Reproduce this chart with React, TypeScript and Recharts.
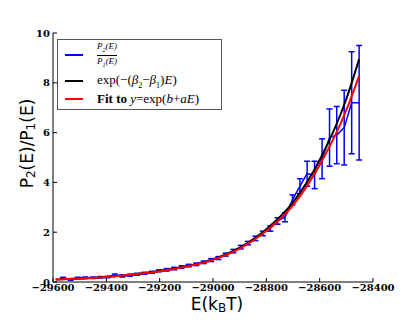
import React from "react";
import { LineChart, Line, XAxis, YAxis, ErrorBar, Legend, Label } from "recharts";

// binned energies (k_B T) and measured ratio P2/P1 with errors
const energies = [
  -29562, -29534, -29507, -29479, -29451, -29423, -29396, -29368, -29340, -29312,
  -29285, -29257, -29229, -29202, -29174, -29146, -29118, -29091, -29063, -29035,
  -29007, -28980, -28952, -28924, -28896, -28869, -28841, -28813, -28785, -28758,
  -28730, -28702, -28674, -28647, -28619, -28591, -28563, -28536, -28508, -28480,
  -28452,
];
const ratio = [
  0.16, 0.1, 0.16, 0.17, 0.17, 0.19, 0.2, 0.28, 0.24, 0.27,
  0.31, 0.35, 0.39, 0.45, 0.49, 0.54, 0.6, 0.66, 0.71, 0.79,
  0.88, 0.96, 1.1, 1.24, 1.4, 1.56, 1.75, 1.95, 2.15, 2.45,
  2.6, 3.3, 3.85, 4.35, 4.3, 4.95, 5.8, 5.9, 6.2, 7.2,
  7.2,
];
const ratioErr = [
  0.03, 0.03, 0.03, 0.03, 0.03, 0.03, 0.03, 0.04, 0.04, 0.04,
  0.04, 0.04, 0.04, 0.04, 0.05, 0.05, 0.05, 0.05, 0.05, 0.05,
  0.06, 0.06, 0.06, 0.07, 0.07, 0.07, 0.09, 0.09, 0.11, 0.13,
  0.18, 0.2, 0.3, 0.5, 0.55, 0.8, 1.15, 1.15, 1.5, 2.05,
  2.3,
];

// smooth curves
const curveE = [
  -29590, -29500, -29400, -29300, -29200, -29100, -29000,
  -28900, -28800, -28700, -28600, -28500, -28452,
];
const expTheory = [0.1, 0.14, 0.2, 0.3, 0.44, 0.63, 0.91, 1.38, 2.12, 3.2, 4.9, 7.35, 8.95];
const expFit = [0.1, 0.14, 0.2, 0.3, 0.43, 0.62, 0.89, 1.34, 2.05, 3.08, 4.7, 6.9, 8.28];

const xTicks = [-29600, -29400, -29200, -29000, -28800, -28600, -28400];
const yTicks = [0, 2, 4, 6, 8, 10];

const ratioData = energies.map((E, i) => ({ E, v: ratio[i], err: ratioErr[i] }));
const theoryData = curveE.map((E, i) => ({ E, v: expTheory[i] }));
const fitData = curveE.map((E, i) => ({ E, v: expFit[i] }));

const tickFont = {
  fontFamily: "DejaVu Serif",
  fontWeight: "bold",
  fontSize: 10,
  fill: "#000",
};
const mathFont = "Liberation Serif";
const fmt = (v: number) => (v < 0 ? "\u2212" + Math.abs(v) : String(v));
const blank = () => "";

const XLabel = ({ viewBox }: any) => {
  const cx = viewBox.x + viewBox.width / 2 + 4;
  return (
    <text x={cx} y={viewBox.y + 28} textAnchor="middle" fontFamily="DejaVu Sans" fontSize={17} fill="#000">
      E(k
      <tspan fontSize={12} dy={2}>B</tspan>
      <tspan dy={-2}>T)</tspan>
    </text>
  );
};

const YLabel = ({ viewBox }: any) => {
  const cx = viewBox.x + 27;
  const cy = viewBox.y + viewBox.height / 2 - 14;
  return (
    <text
      x={cx}
      y={cy}
      transform={`rotate(-90 ${cx} ${cy})`}
      textAnchor="middle"
      dominantBaseline="central"
      fontFamily="DejaVu Sans"
      fontSize={17}
      fill="#000"
    >
      P<tspan fontSize={12} dy={4}>2</tspan>
      <tspan dy={-4}>(E)/P</tspan>
      <tspan fontSize={12} dy={4}>1</tspan>
      <tspan dy={-4}>(E)</tspan>
    </text>
  );
};

const Swatch = ({ color }: { color: string }) => (
  <div style={{ width: 18, height: 2, background: color, marginRight: 14, flexShrink: 0 }} />
);

const LegendBox = () => (
  <div
    style={{
      position: "relative",
      width: 165,
      height: 71,
      boxSizing: "border-box",
      border: "1.5px solid #555",
      background: "#fff",
      fontFamily: mathFont,
      color: "#000",
    }}
  >
    <div style={{ position: "absolute", left: 7, top: 1, height: 28, display: "flex", alignItems: "center" }}>
      <Swatch color="#0000ff" />
      <div style={{ display: "inline-flex", flexDirection: "column", alignItems: "center", fontSize: 9, fontStyle: "italic", lineHeight: "10px" }}>
        <span>
          P<sub style={{ fontSize: 6 }}>2</sub>(E)
        </span>
        <span style={{ borderTop: "1px solid #000", width: "100%", textAlign: "center" }}>
          P<sub style={{ fontSize: 6 }}>1</sub>(E)
        </span>
      </div>
    </div>
    <div style={{ position: "absolute", left: 7, top: 32, height: 18, display: "flex", alignItems: "center", fontSize: 13, whiteSpace: "nowrap" }}>
      <Swatch color="#000" />
      <span>
        exp(&minus;(<i>&beta;</i>
        <sub style={{ fontSize: 8 }}>2</sub>&minus;<i>&beta;</i>
        <sub style={{ fontSize: 8 }}>1</sub>)<i>E</i>)
      </span>
    </div>
    <div style={{ position: "absolute", left: 7, top: 50, height: 18, display: "flex", alignItems: "center", fontSize: 13, whiteSpace: "nowrap" }}>
      <Swatch color="#ff0000" />
      <span>
        <b>Fit to</b> <i>y</i>=exp(<i>b</i>+<i>aE</i>)
      </span>
    </div>
  </div>
);

export default function App() {
  return (
    <div style={{ position: "absolute", left: 0, top: 0, width: 415, height: 325, background: "#fff" }}>
      <LineChart width={415} height={325} margin={{ top: 33, right: 42, bottom: 0, left: 0 }}>
        <XAxis
          dataKey="E"
          type="number"
          domain={[-29600, -28400]}
          ticks={xTicks}
          tickFormatter={fmt}
          tick={tickFont}
          tickSize={-4}
          tickMargin={6}
          height={43}
          axisLine={{ stroke: "#000" }}
          tickLine={{ stroke: "#000" }}
          allowDataOverflow
        >
          <Label content={XLabel} />
        </XAxis>
        <XAxis
          xAxisId="top"
          orientation="top"
          dataKey="E"
          type="number"
          domain={[-29600, -28400]}
          ticks={xTicks}
          tickFormatter={blank}
          tickSize={-4}
          height={0}
          axisLine={{ stroke: "#000" }}
          tickLine={{ stroke: "#000" }}
          allowDataOverflow
        />
        <YAxis
          type="number"
          domain={[0, 10]}
          ticks={yTicks}
          tick={tickFont}
          tickSize={-4}
          tickMargin={7}
          width={53}
          axisLine={{ stroke: "#000" }}
          tickLine={{ stroke: "#000" }}
          allowDataOverflow
        >
          <Label content={YLabel} />
        </YAxis>
        <YAxis
          yAxisId="right"
          orientation="right"
          type="number"
          domain={[0, 10]}
          ticks={yTicks}
          tickFormatter={blank}
          tickSize={-4}
          width={0}
          axisLine={{ stroke: "#000" }}
          tickLine={{ stroke: "#000" }}
          allowDataOverflow
        />
        <Line
          data={ratioData}
          dataKey="v"
          type="linear"
          stroke="#0000ff"
          strokeWidth={1.5}
          dot={false}
          isAnimationActive={false}
        >
          <ErrorBar dataKey="err" direction="y" width={3} stroke="#0000ff" strokeWidth={1.5} />
        </Line>
        <Line
          data={theoryData}
          dataKey="v"
          type="monotone"
          stroke="#000"
          strokeWidth={2}
          dot={false}
          isAnimationActive={false}
        />
        <Line
          data={fitData}
          dataKey="v"
          type="monotone"
          stroke="#ff0000"
          strokeWidth={2}
          dot={false}
          isAnimationActive={false}
        />
        <Legend
          layout="vertical"
          align="center"
          verticalAlign="middle"
          content={LegendBox}
          wrapperStyle={{ left: 57, top: 39, width: 165, height: 71 }}
        />
      </LineChart>
    </div>
  );
}
